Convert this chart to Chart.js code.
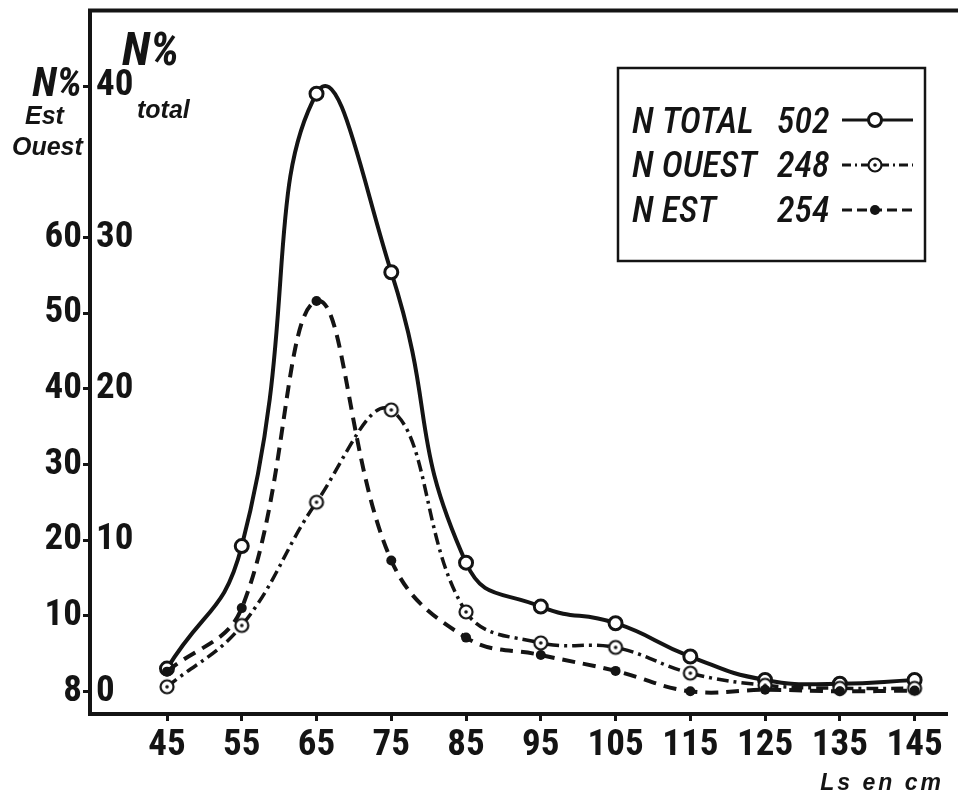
<!DOCTYPE html>
<html><head><meta charset="utf-8">
<script src="https://cdn.jsdelivr.net/npm/chart.js@4.4.1/dist/chart.umd.min.js"></script>
<style>html,body{margin:0;padding:0;background:#fff}canvas{display:block}</style>
</head><body>
<canvas id="c" width="958" height="793"></canvas>
<script>
// ---- data ----
const sizes = [45, 55, 65, 75, 85, 95, 105, 115, 125, 135, 145];          // Ls en cm
const totalPct = [1.5, 9.6, 39.5, 27.7, 8.5, 5.6, 4.5, 2.3, 0.75, 0.5, 0.75]; // N% total (right scale)
const ouestPct = [0.6, 8.7, 25.0, 37.2, 10.5, 6.4, 5.8, 2.4, 0.8, 0.4, 0.4];   // N% Ouest (left scale)
const estPct   = [2.6, 11.0, 51.6, 17.3, 7.1, 4.8, 2.7, 0.0, 0.2, 0.0, 0.1];   // N% Est (left scale)
const leftTicks = [0, 10, 20, 30, 40, 50, 60, 80];
const leftTickLabels = ['8', '10', '20', '30', '40', '50', '60', 'N%'];
const totalTicks = [0, 10, 20, 30, 40];
const legendNames = ['N TOTAL', 'N OUEST', 'N EST'];
const legendCounts = ['502', '248', '254'];

const INK = '#141414';
const NARROW = '"Roboto Condensed", "Open Sans Condensed", "DejaVu Sans Condensed", sans-serif';
const SANS = '"Liberation Sans", "DejaVu Sans", sans-serif';
const fontNum = {family: NARROW, size: 37, weight: 'bold'};
const fontNumItalic = {family: NARROW, size: 41, weight: 'bold', style: 'italic'};

const DASH_EST = [13, 8];
const DASH_OUEST = [12, 5, 3, 5];

function ouestMarker() {
  const c = document.createElement('canvas');
  c.width = 18; c.height = 18;
  const g = c.getContext('2d');
  g.strokeStyle = INK; g.lineWidth = 2.2; g.fillStyle = '#fff';
  g.beginPath(); g.arc(9, 9, 6.5, 0, Math.PI * 2); g.fill(); g.stroke();
  g.fillStyle = INK;
  g.beginPath(); g.arc(9, 9, 1.8, 0, Math.PI * 2); g.fill();
  return c;
}
const ouestImg = ouestMarker();

function drawMarker(g, kind, x, y) {
  g.save();
  g.setLineDash([]);
  if (kind === 0) {
    g.fillStyle = '#fff'; g.strokeStyle = INK; g.lineWidth = 3;
    g.beginPath(); g.arc(x, y, 6.5, 0, Math.PI * 2); g.fill(); g.stroke();
  } else if (kind === 1) {
    g.drawImage(ouestImg, x - 9, y - 9);
  } else {
    g.fillStyle = INK;
    g.beginPath(); g.arc(x, y, 5, 0, Math.PI * 2); g.fill();
  }
  g.restore();
}

const extras = {
  id: 'extras',
  afterDraw(chart) {
    const g = chart.ctx;
    const a = chart.chartArea;
    g.save();
    // top frame line
    g.strokeStyle = INK; g.lineWidth = 4; g.setLineDash([]);
    g.beginPath(); g.moveTo(a.left - 2, a.top); g.lineTo(chart.width, a.top); g.stroke();

    g.fillStyle = INK;
    g.textBaseline = 'alphabetic'; g.textAlign = 'left';
    // axis titles
    g.font = 'italic bold 47px ' + NARROW;
    g.fillText('N%', 122, 65);
    g.font = 'italic bold 25px ' + SANS;
    g.fillText('total', 137, 118);
    g.fillText('Est', 25, 124);
    g.fillText('Ouest', 12, 155);
    // x axis title
    g.font = 'italic bold 23px ' + SANS;
    g.textAlign = 'right';
    if ('letterSpacing' in g) g.letterSpacing = '3px';
    g.fillText('Ls en cm', 944, 790);
    if ('letterSpacing' in g) g.letterSpacing = '0px';

    // legend box
    g.lineWidth = 2.5;
    g.strokeRect(618, 68, 307, 193);
    const rowsY = [133, 177, 222];
    const midY = [120, 165, 210];
    const dashes = [[], [9, 4, 2, 4], [10, 5]];
    g.textAlign = 'left';
    g.font = 'italic 500 36px ' + NARROW;
    for (let i = 0; i < 3; i++) {
      g.fillText(legendNames[i], 632, rowsY[i]);
      g.fillText(legendCounts[i], 777, rowsY[i]);
      g.save();
      g.setLineDash(dashes[i]);
      g.lineWidth = 3;
      g.beginPath(); g.moveTo(842, midY[i]); g.lineTo(913, midY[i]); g.stroke();
      g.restore();
      drawMarker(g, i, 875, midY[i]);
    }
    g.restore();
  }
};

new Chart(document.getElementById('c'), {
  type: 'line',
  data: {
    datasets: [
      {
        label: 'N EST', yAxisID: 'y',
        data: sizes.map((x, i) => ({x, y: estPct[i]})),
        borderColor: INK, borderWidth: 4, borderDash: DASH_EST,
        pointRadius: 5, pointBackgroundColor: INK, pointBorderColor: INK, pointBorderWidth: 0,
        tension: 0.4, fill: false
      },
      {
        label: 'N OUEST', yAxisID: 'y',
        data: sizes.map((x, i) => ({x, y: ouestPct[i]})),
        borderColor: INK, borderWidth: 3.5, borderDash: DASH_OUEST,
        pointStyle: ouestImg, pointRadius: 7,
        tension: 0.4, fill: false
      },
      {
        label: 'N TOTAL', yAxisID: 'y2',
        data: sizes.map((x, i) => ({x, y: totalPct[i]})),
        borderColor: INK, borderWidth: 4,
        pointRadius: 6.5, pointBackgroundColor: '#fff', pointBorderColor: INK, pointBorderWidth: 3,
        tension: 0.5, fill: false
      }
    ]
  },
  options: {
    responsive: false, animation: false, devicePixelRatio: 1,
    layout: {padding: 0},
    plugins: {legend: {display: false}, tooltip: {enabled: false}},
    scales: {
      x: {
        type: 'linear', position: 'bottom', min: 34.7, max: 149.4,
        afterBuildTicks: s => { s.ticks = sizes.map(v => ({value: v})); },
        afterFit: s => { s.height = 79; s.paddingLeft = 0; s.paddingRight = 0; },
        grid: {drawOnChartArea: false, drawTicks: true, tickLength: 7, tickWidth: 3, tickColor: INK},
        border: {display: true, color: INK, width: 4},
        ticks: {color: INK, font: fontNum, padding: 3, maxRotation: 0, autoSkip: false, callback: v => String(v)}
      },
      y: {
        type: 'linear', position: 'left', weight: 1, min: -3, max: 90,
        afterBuildTicks: s => { s.ticks = leftTicks.map(v => ({value: v})); },
        afterFit: s => { s.width = 90; s.paddingTop = 0; s.paddingBottom = 0; },
        grid: {drawOnChartArea: false, drawTicks: true, tickLength: 7, tickWidth: 3, tickColor: INK},
        border: {display: true, color: INK, width: 4},
        ticks: {
          color: INK, padding: 1, autoSkip: false,
          font: c => (c.tick && c.tick.value === 80) ? fontNumItalic : fontNum,
          callback: v => { const i = leftTicks.indexOf(v); return i >= 0 ? leftTickLabels[i] : ''; }
        }
      },
      y2: {
        type: 'linear', position: 'left', weight: 0, min: -1.5, max: 45,
        afterBuildTicks: s => { s.ticks = totalTicks.map(v => ({value: v})); },
        afterFit: s => { s.width = 0; s.paddingTop = 0; s.paddingBottom = 0; },
        grid: {display: false, drawOnChartArea: false, drawTicks: false},
        border: {display: false},
        ticks: {color: INK, font: fontNum, mirror: true, padding: 6, autoSkip: false, callback: v => String(v)}
      }
    }
  },
  plugins: [extras]
});
</script>
</body></html>
